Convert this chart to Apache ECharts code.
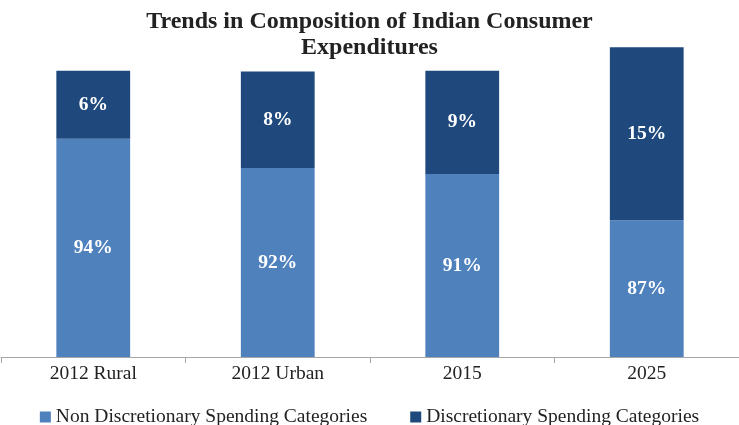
<!DOCTYPE html>
<html>
<head>
<meta charset="utf-8">
<script src="https://cdn.jsdelivr.net/npm/echarts@6/dist/echarts.min.js"></script>
<style>html,body{margin:0;padding:0;background:#fff}#c{width:739px;height:425px}</style>
</head>
<body>
<div id="c"></div>
<script>
var categories = ['2012 Rural', '2012 Urban', '2015', '2025'];
var seriesNames = ['Non Discretionary Spending Categories', 'Discretionary Spending Categories'];
// bar segment sizes as drawn (relative units)
var nonDiscretionary = [76.3, 66.1, 64.0, 47.8];
var discretionary = [23.8, 33.7, 36.1, 60.5];
// labels shown on the segments
var nonDiscLabels = ['94%', '92%', '91%', '87%'];
var discLabels = ['6%', '8%', '9%', '15%'];

var chart = echarts.init(document.getElementById('c'), null, {renderer: 'canvas'});
var font = 'Liberation Serif, Times New Roman, serif';
function lbl(arr) {
  return {
    show: true, position: 'inside', color: '#fff', fontFamily: font,
    fontWeight: 'bold', fontSize: 19.5,
    formatter: function (p) { return arr[p.dataIndex]; }
  };
}
chart.setOption({
  animation: false,
  title: {
    text: 'Trends in Composition of Indian Consumer\nExpenditures',
    left: 'center', top: 4,
    textStyle: {fontFamily: font, fontWeight: 'bold', fontSize: 24, lineHeight: 26, color: '#222'}
  },
  legend: {
    top: 402, left: 'center', itemWidth: 11, itemHeight: 11, itemGap: 43,
    icon: 'rect',
    textStyle: {fontFamily: font, fontSize: 19.5, color: '#222'},
    data: seriesNames
  },
  grid: {left: 1, right: 0, top: 42.4, bottom: 68, containLabel: false},
  xAxis: {
    type: 'category', data: categories,
    axisLine: {lineStyle: {color: '#a6a6a6'}},
    axisTick: {show: true, length: 6, lineStyle: {color: '#a6a6a6'}},
    axisLabel: {fontFamily: font, fontSize: 19.5, color: '#222', margin: 7}
  },
  yAxis: {type: 'value', min: 0, max: 110, show: false, splitLine: {show: false}},
  series: [
    {name: seriesNames[0], type: 'bar', stack: 't', barWidth: '40%',
     itemStyle: {color: '#4F81BD'}, label: lbl(nonDiscLabels), data: nonDiscretionary},
    {name: seriesNames[1], type: 'bar', stack: 't', barWidth: '40%',
     itemStyle: {color: '#1F497D'}, label: lbl(discLabels), data: discretionary}
  ]
});
</script>
</body>
</html>
